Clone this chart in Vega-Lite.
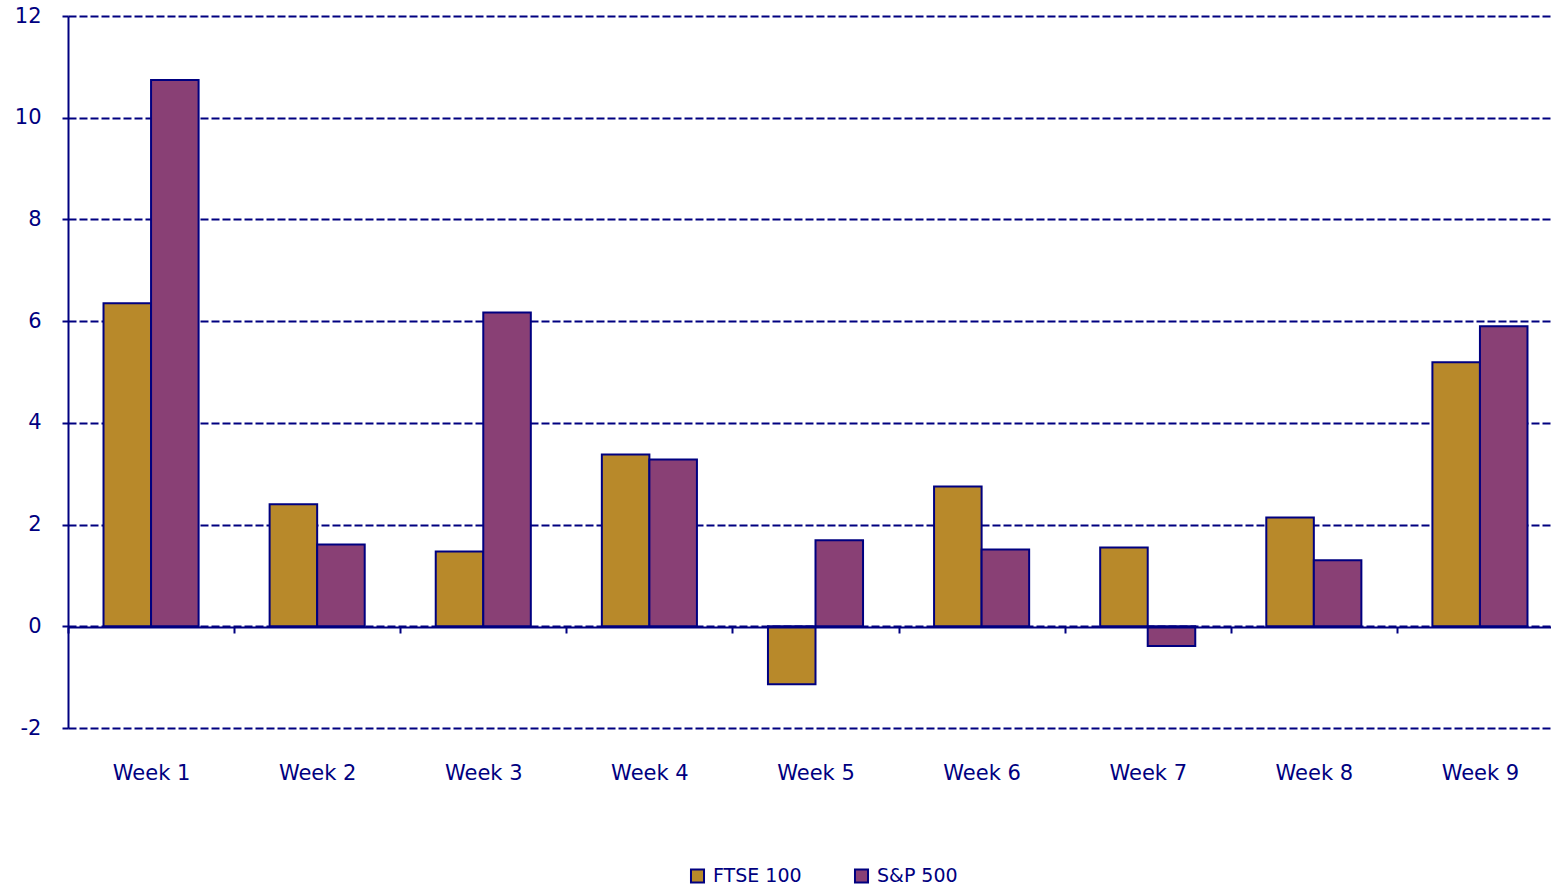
{
  "$schema": "https://vega.github.io/schema/vega-lite/v6.json",
  "autosize": {"type": "none"},
  "padding": {"left": 68, "top": 16, "right": 0, "bottom": 160},
  "width": 1483,
  "height": 712,
  "background": "white",
  "data": {
    "values": [
      {"week": "Week 1", "index": "FTSE 100", "value": 6.35},
      {"week": "Week 1", "index": "S&P 500", "value": 10.74},
      {"week": "Week 2", "index": "FTSE 100", "value": 2.40},
      {"week": "Week 2", "index": "S&P 500", "value": 1.61},
      {"week": "Week 3", "index": "FTSE 100", "value": 1.47},
      {"week": "Week 3", "index": "S&P 500", "value": 6.17},
      {"week": "Week 4", "index": "FTSE 100", "value": 3.38},
      {"week": "Week 4", "index": "S&P 500", "value": 3.28},
      {"week": "Week 5", "index": "FTSE 100", "value": -1.14},
      {"week": "Week 5", "index": "S&P 500", "value": 1.69},
      {"week": "Week 6", "index": "FTSE 100", "value": 2.75},
      {"week": "Week 6", "index": "S&P 500", "value": 1.51},
      {"week": "Week 7", "index": "FTSE 100", "value": 1.55},
      {"week": "Week 7", "index": "S&P 500", "value": -0.39},
      {"week": "Week 8", "index": "FTSE 100", "value": 2.14},
      {"week": "Week 8", "index": "S&P 500", "value": 1.30},
      {"week": "Week 9", "index": "FTSE 100", "value": 5.19},
      {"week": "Week 9", "index": "S&P 500", "value": 5.90}
    ]
  },
  "config": {
    "view": {"stroke": null},
    "font": "DejaVu Sans"
  },
  "mark": {"type": "bar", "stroke": "#000080", "strokeWidth": 2},
  "encoding": {
    "x": {
      "field": "week",
      "type": "nominal",
      "scale": {"paddingInner": 0, "paddingOuter": 0, "range": [0, 1495]},
      "axis": {
        "title": null,
        "labelAngle": 0,
        "offset": -101,
        "domainColor": "#000080",
        "domainWidth": 2,
        "tickColor": "#000080",
        "tickWidth": 2,
        "tickSize": 6,
        "tickBand": "extent",
        "labelPadding": 129,
        "labelFontSize": 21,
        "labelColor": "#000080",
        "labelBaseline": "top",
        "zindex": 1
      }
    },
    "xOffset": {
      "field": "index",
      "type": "nominal",
      "scale": {"paddingInner": 0, "paddingOuter": 0.747}
    },
    "y": {
      "field": "value",
      "type": "quantitative",
      "scale": {"domain": [-2, 12], "nice": false, "zero": false},
      "axis": {
        "title": null,
        "values": [-2, 0, 2, 4, 6, 8, 10, 12],
        "labelExpr": "toString(datum.value)",
        "domainColor": "#000080",
        "domainWidth": 2,
        "tickColor": "#000080",
        "tickWidth": 2,
        "tickSize": 6,
        "labelPadding": 21,
        "labelFontSize": 21,
        "labelColor": "#000080",
        "grid": true,
        "gridColor": "#000080",
        "gridWidth": 2,
        "gridDash": [8, 3]
      }
    },
    "color": {
      "field": "index",
      "type": "nominal",
      "scale": {"domain": ["FTSE 100", "S&P 500"], "range": ["#B8892A", "#894075"]},
      "legend": {
        "title": null,
        "orient": "none",
        "direction": "horizontal",
        "legendX": 620,
        "legendY": 850,
        "symbolType": "square",
        "symbolSize": 170,
        "symbolStrokeColor": "#000080",
        "symbolStrokeWidth": 2,
        "labelFontSize": 19,
        "labelColor": "#000080",
        "columnPadding": 48,
        "labelOffset": 6
      }
    }
  }
}
